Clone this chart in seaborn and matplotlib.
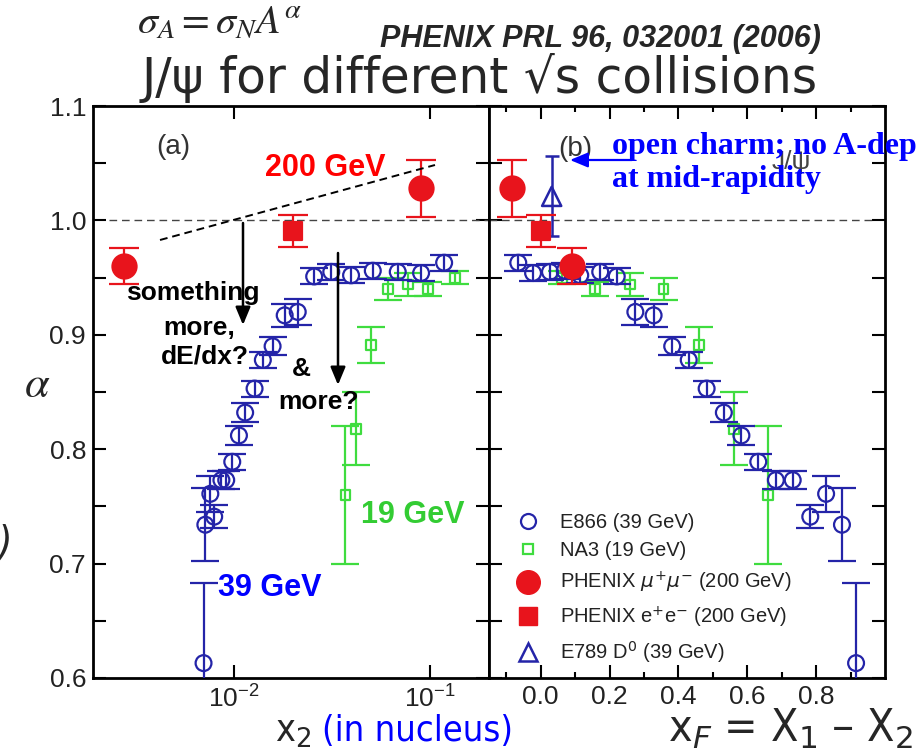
import matplotlib
matplotlib.use("Agg")
import matplotlib.pyplot as plt
import seaborn as sns
from matplotlib.lines import Line2D
from matplotlib.patches import FancyArrowPatch
from matplotlib.ticker import (FixedLocator, MultipleLocator, NullLocator,
                               LogFormatterSciNotation, FormatStrFormatter)

# ---------------- data ----------------
# E866 J/psi, sqrt(s) = 39 GeV : alpha vs x2 (left) and vs xF (right)
e866_alpha = [0.963, 0.954, 0.955, 0.956, 0.952, 0.955, 0.951, 0.920, 0.917,
              0.890, 0.878, 0.853, 0.832, 0.812, 0.789, 0.773, 0.773, 0.741,
              0.761, 0.734, 0.613]
e866_err = [0.007, 0.007, 0.007, 0.007, 0.007, 0.007, 0.007, 0.011, 0.010,
            0.008, 0.007, 0.007, 0.008, 0.008, 0.007, 0.008, 0.008, 0.010,
            0.016, 0.032, 0.070]
e866_x2 = [0.118, 0.090, 0.0684, 0.051, 0.0395, 0.0313, 0.0256, 0.0211, 0.0181,
           0.0157, 0.0140, 0.0127, 0.01137, 0.01057, 0.00977, 0.0091, 0.0086,
           0.0079, 0.00755, 0.00712, 0.00697]
e866_xf = [-0.065, -0.022, 0.027, 0.070, 0.115, 0.173, 0.221, 0.275, 0.328,
           0.382, 0.430, 0.482, 0.532, 0.583, 0.632, 0.683, 0.732, 0.783,
           0.829, 0.875, 0.916]

# NA3 J/psi, sqrt(s) = 19 GeV
na3_alpha = [0.950, 0.940, 0.944, 0.940, 0.891, 0.818, 0.760]
na3_err = [0.006, 0.006, 0.010, 0.010, 0.016, 0.032, 0.060]
na3_x2 = [0.134, 0.0973, 0.0769, 0.0608, 0.050, 0.0419, 0.037]
na3_xf = [0.061, 0.158, 0.260, 0.357, 0.459, 0.562, 0.661]

# PHENIX J/psi -> mu+mu- (forward / backward), 200 GeV
mumu_alpha = [0.960, 1.028]
mumu_err = [0.016, 0.025]
mumu_x2 = [0.00275, 0.090]
mumu_xf = [0.090, -0.083]

# PHENIX J/psi -> e+e- (mid-rapidity), 200 GeV
ee_alpha = [0.991]
ee_err = [0.014]
ee_x2 = [0.0199]
ee_xf = [0.0]

# E789 open charm D0, 39 GeV
d0_alpha = [1.021]
d0_err = [0.035]
d0_xf = [0.032]

legend_labels = ["E866 (39 GeV)", "NA3 (19 GeV)",
                 r"PHENIX $\mu^{+}\mu^{-}$ (200 GeV)",
                 r"PHENIX e$^{+}$e$^{-}$ (200 GeV)",
                 r"E789 D$^{0}$ (39 GeV)"]
x2_ticks = [0.01, 0.1]
xf_ticks = [0.0, 0.2, 0.4, 0.6, 0.8]
xf_minor = [-0.1, 0.1, 0.3, 0.5, 0.7, 0.9]

# ---------------- style ----------------
sns.set_style("ticks")
plt.rcParams["font.family"] = ["Liberation Sans", "DejaVu Sans"]
plt.rcParams["mathtext.fontset"] = "dejavusans"

BLUE = "#2424a8"
GREEN = "#3fdc3f"
RED = "#e8141c"

W, H = 920, 752
fig = plt.figure(figsize=(W / 100, H / 100), dpi=100)


def fx(px):
    return px / W


def fy(py):
    return 1 - py / H


axL = fig.add_axes([fx(93), fy(678), (489 - 93) / W, (678 - 106) / H])
axR = fig.add_axes([fx(489), fy(678), (885 - 489) / W, (678 - 106) / H])


def series(ax, x, y, err, color, marker, size, filled, cap, z, lw=1.6):
    ax.errorbar(x, y, yerr=err, fmt="none", ecolor=color, elinewidth=lw,
                capsize=cap, capthick=lw, zorder=z)
    sns.scatterplot(x=x, y=y, ax=ax, marker=marker, s=size, color=color,
                    facecolor=color if filled else "none", edgecolor=color,
                    linewidth=lw, zorder=z + 0.5, legend=False)


# left panel: alpha vs x2
series(axL, na3_x2, na3_alpha, na3_err, GREEN, "s", 50, False, 10, 3)
series(axL, e866_x2, e866_alpha, e866_err, BLUE, "o", 130, False, 10, 4)
series(axL, ee_x2, ee_alpha, ee_err, RED, "s", 170, True, 11, 6)
series(axL, mumu_x2, mumu_alpha, mumu_err, RED, "o", 300, True, 11, 6)

# right panel: alpha vs xF
series(axR, na3_xf, na3_alpha, na3_err, GREEN, "s", 50, False, 10, 3)
series(axR, e866_xf, e866_alpha, e866_err, BLUE, "o", 130, False, 10, 4)
series(axR, d0_xf, d0_alpha, d0_err, BLUE, "^", 190, False, 5, 5, lw=1.8)
series(axR, ee_xf, ee_alpha, ee_err, RED, "s", 170, True, 11, 6)
series(axR, mumu_xf, mumu_alpha, mumu_err, RED, "o", 300, True, 11, 6)

axL.axhline(1.0, xmin=0.04, xmax=1.0, ls=(0, (5.5, 3.5)), color="#444444", lw=1.0, zorder=1)
axR.axhline(1.0, xmin=0.0, xmax=0.97, ls=(0, (5.5, 3.5)), color="#444444", lw=1.0, zorder=1)

# axes, ticks
axL.set_xscale("log")
axL.set_xlim(0.0019, 0.2)
axL.xaxis.set_major_locator(FixedLocator(x2_ticks))
axL.xaxis.set_minor_locator(NullLocator())
axL.xaxis.set_major_formatter(LogFormatterSciNotation())

axR.set_xlim(-0.15, 1.0)
axR.xaxis.set_major_locator(FixedLocator(xf_ticks))
axR.xaxis.set_minor_locator(FixedLocator(xf_minor))
axR.xaxis.set_major_formatter(FormatStrFormatter("%.1f"))

for ax in (axL, axR):
    ax.set_ylim(0.6, 1.1)
    ax.yaxis.set_major_locator(MultipleLocator(0.1))
    ax.yaxis.set_minor_locator(MultipleLocator(0.05))
    ax.tick_params(axis="both", which="both", direction="in", top=True,
                   right=True, width=1.5, color="black", labelcolor="#222222")
    ax.tick_params(axis="both", which="major", length=9.5, pad=5)
    ax.tick_params(axis="y", which="minor", length=9.5)
    ax.tick_params(axis="x", which="minor", length=4)
    ax.tick_params(axis="y", labelsize=19)
    for s in ax.spines.values():
        s.set_linewidth(2)
        s.set_color("black")
    ax.set_xlabel("")
    ax.set_ylabel("")
axL.tick_params(axis="x", labelsize=19)
axR.tick_params(axis="x", labelsize=19)
axR.tick_params(axis="y", labelleft=False)

# legend
handles = [
    Line2D([], [], ls="none", marker="o", ms=10.8, mfc="none", mec=BLUE, mew=1.6),
    Line2D([], [], ls="none", marker="s", ms=7, mfc="none", mec=GREEN, mew=1.6),
    Line2D([], [], ls="none", marker="o", ms=17, mfc=RED, mec=RED),
    Line2D([], [], ls="none", marker="s", ms=13, mfc=RED, mec=RED),
    Line2D([], [], ls="none", marker="^", ms=13, mfc="none", mec=BLUE, mew=1.8),
]
leg = axR.legend(handles, legend_labels, loc="upper left",
                 bbox_to_anchor=((518 - 489) / 396, (678 - 513) / 572),
                 frameon=False, fontsize=14.5, handlelength=1.0,
                 handletextpad=1.1, labelspacing=0.47, borderpad=0,
                 borderaxespad=0)
for t in leg.get_texts():
    t.set_color("#222222")


# ---------------- annotations ----------------
def ftext(px, py, s, **kw):
    kw.setdefault("ha", "center")
    kw.setdefault("va", "center")
    return fig.text(fx(px), fy(py), s, **kw)


def farrow(x0, y0, x1, y1, color, lw=1.8):
    fig.add_artist(FancyArrowPatch(
        posA=(fx(x0), fy(y0)), posB=(fx(x1), fy(y1)), transform=fig.transFigure,
        arrowstyle="-|>,head_length=0.6,head_width=0.25", mutation_scale=18,
        color=color, lw=lw, shrinkA=0, shrinkB=0, zorder=10))


COMIC = dict(family="DejaVu Sans", fontstretch="condensed")

ftext(220, 22, r"$\sigma_A = \sigma_N A^{\alpha}$", fontsize=29, math_fontfamily="stix")
ftext(600, 39, "PHENIX PRL 96, 032001 (2006)", fontsize=22, fontweight="bold",
      fontstyle="italic")
ftext(480, 93, "J/ψ for different √s collisions", fontsize=35, va="baseline",
      family="DejaVu Sans")

ftext(37, 385, r"$\alpha$", fontsize=32, math_fontfamily="stix")
ftext(5, 545, ")", fontsize=30, fontstyle="italic", **COMIC)

ftext(173, 147, "(a)", fontsize=20, color="#333333")
ftext(575, 149, "(b)", fontsize=20, color="#333333")
ftext(791, 162, "J/ψ", fontsize=19, color="#444444")

ftext(612, 154, "open charm; no A-dep", fontsize=23, ha="left", va="baseline",
      family="Liberation Serif", fontweight="bold", color="#0000ff")
ftext(612, 187, "at mid-rapidity", fontsize=23, ha="left", va="baseline",
      family="Liberation Serif", fontweight="bold", color="#0000ff")

ftext(325, 168, "200 GeV", fontsize=22, fontweight="bold", color="#ff0000")
ftext(270, 588, "39 GeV", fontsize=22, fontweight="bold", color="#0000ff")
ftext(413, 515, "19 GeV", fontsize=22, fontweight="bold", color="#33cc33")

ftext(193, 293, "something", fontsize=19, fontweight="bold", color="black")
ftext(199, 328, "more,", fontsize=19, fontweight="bold", color="black")
ftext(205, 357, "dE/dx?", fontsize=19, fontweight="bold", color="black")
ftext(301, 369, "&", fontsize=19, fontweight="bold", color="black")
ftext(319, 402, "more?", fontsize=19, fontweight="bold", color="black")

fig.add_artist(Line2D([fx(160), fx(435)], [fy(240), fy(165)], transform=fig.transFigure,
                      ls=(0, (4, 2.5)), color="black", lw=1.4, zorder=9))
farrow(243, 223, 243, 325, "black")
farrow(338, 253, 338, 385, "black")
farrow(632, 160, 570, 160, "#0000ff", lw=1.6)

ftext(275, 732, r"x$_{2}$", fontsize=27, ha="left", **COMIC)
ftext(322, 731, "(in nucleus)", fontsize=26, ha="left", color="#0000ff", **COMIC)
ftext(668, 729, r"x$_{F}$ = X$_{1}$ – X$_{2}$", fontsize=32, ha="left", **COMIC)

fig.savefig("out.png", dpi=100)
